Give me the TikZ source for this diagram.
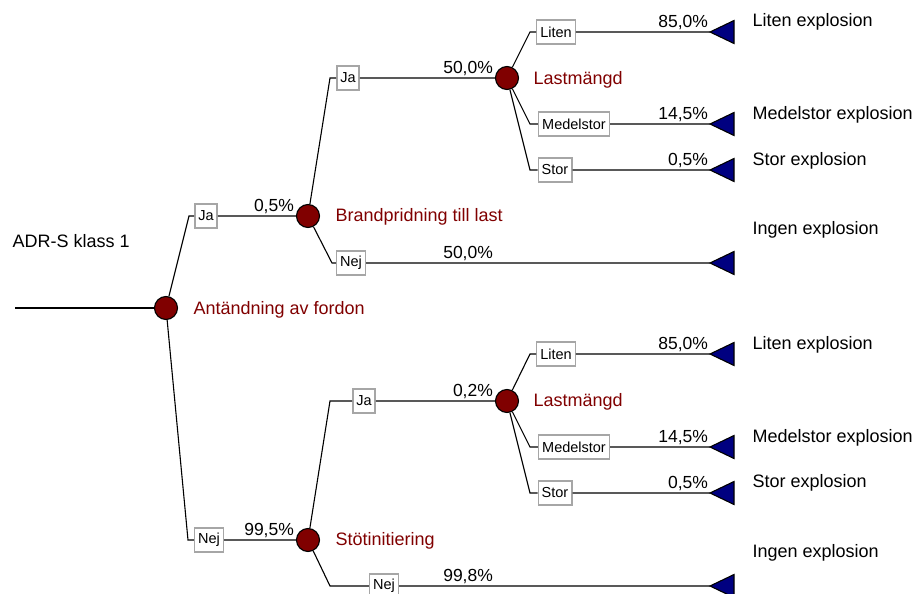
\documentclass[tikz,border=0pt]{standalone}
\usepackage{fontspec}
\setmainfont{Liberation Sans}
\usetikzlibrary{shapes.geometric}
\definecolor{chancered}{RGB}{128,0,0}
\definecolor{termblue}{RGB}{0,0,128}

\begin{document}
\begin{tikzpicture}[
					x=1pt, y=-1pt,
					line width=1.1pt,
					chance/.style={circle,draw,fill=chancered,minimum size=23pt,inner sep=0pt},
					opt/.style={rectangle,draw=gray!70,line width=1.4pt,fill=white,inner xsep=3.5pt,minimum height=24pt,font=\fontsize{14.5}{16}\selectfont},
					term/.style={isosceles triangle,isosceles triangle stretches,shape border rotate=180,draw,fill=termblue,minimum width=23pt,minimum height=24pt,inner sep=0pt,outer sep=0pt,anchor=apex},
					pct/.style={anchor=south east,inner sep=1.5pt,font=\fontsize{17.5}{20}\selectfont},
					lbl/.style={anchor=west,inner sep=0pt,font=\fontsize{18}{20}\selectfont},
					evt/.style={lbl,text=chancered},
					]
					\useasboundingbox (0,0) rectangle (914,594);
					% chance nodes
					\node [chance] (c1) at (166,308) {};
					\node [chance] (c2) at (308,216) {};
					\node [chance] (c3) at (308,540) {};
					\node [chance] (c4) at (507,78) {};
					\node [chance] (c5) at (507,401) {};
					\coordinate (root) at (15,308);
					\node [lbl] (title) at (12,241) {ADR-S klass 1};
					\node [evt] (e1) at (193,310) {Antändning av fordon};
					\node [evt] (e2) at (335,217) {Brandpridning till last};
					\node [evt] (e3) at (335,541) {Stötinitiering};
					\node [evt] (e4) at (533,80) {Lastmängd};
					\node [evt] (e5) at (533,402) {Lastmängd};
					% corners
					\coordinate (k1) at (189,216);
					\coordinate (k2) at (188,540);
					\coordinate (k3) at (330,78);
					\coordinate (k4) at (332,263);
					\coordinate (k5) at (530,32);
					\coordinate (k6) at (530,124);
					\coordinate (k7) at (530,170);
					\coordinate (k8) at (330,401);
					\coordinate (k9) at (330,586);
					\coordinate (k10) at (530,354);
					\coordinate (k11) at (530,447);
					\coordinate (k12) at (530,493);
					% option boxes
					\node [opt] (ja1) at (206,216) {Ja};
					\node [opt] (nej1) at (209,540) {Nej};
					\node [opt] (ja2) at (348,78) {Ja};
					\node [opt] (nej2) at (351,263) {Nej};
					\node [opt] (liten1) at (556,32) {Liten};
					\node [opt] (medel1) at (574,124) {Medelstor};
					\node [opt] (stor1) at (555,170) {Stor};
					\node [opt] (ja3) at (364,401) {Ja};
					\node [opt] (nej3) at (384,586) {Nej};
					\node [opt] (liten2) at (556,354) {Liten};
					\node [opt] (medel2) at (574,447) {Medelstor};
					\node [opt] (stor2) at (555,493) {Stor};
					% end nodes
					\node [term] (t1) at (710,32) {};
					\node [term] (t2) at (710,124) {};
					\node [term] (t3) at (710,170) {};
					\node [term] (t4) at (710,263) {};
					\node [term] (t5) at (710,354) {};
					\node [term] (t6) at (710,447) {};
					\node [term] (t7) at (710,493) {};
					\node [term] (t8) at (710,586) {};
					\node [lbl] (o1) at (752,22) {Liten explosion};
					\node [lbl] (o2) at (752,115) {Medelstor explosion};
					\node [lbl] (o3) at (752,161) {Stor explosion};
					\node [lbl] (o4) at (752,230) {Ingen explosion};
					\node [lbl] (o5) at (752,345) {Liten explosion};
					\node [lbl] (o6) at (752,438) {Medelstor explosion};
					\node [lbl] (o7) at (752,483) {Stor explosion};
					\node [lbl] (o8) at (752,553) {Ingen explosion};
					% probabilities
					\node [pct] (p1) at (c2.west) {0,5\%};
					\node [pct] (p2) at (c3.west) {99,5\%};
					\node [pct] (p3) at (c4.west) {50,0\%};
					\node [pct] (p4) at (c4.west |- t4.apex) {50,0\%};
					\node [pct] (p5) at (t1.apex) {85,0\%};
					\node [pct] (p6) at (t2.apex) {14,5\%};
					\node [pct] (p7) at (t3.apex) {0,5\%};
					\node [pct] (p8) at (c5.west) {0,2\%};
					\node [pct] (p9) at (c5.west |- t8.apex) {99,8\%};
					\node [pct] (p10) at (t5.apex) {85,0\%};
					\node [pct] (p11) at (t6.apex) {14,5\%};
					\node [pct] (p12) at (t7.apex) {0,5\%};
					% branches
					\draw (root) -- (c1);
					\draw (c1) -- (k1) -- (ja1) -- (c2);
					\draw (c1) -- (k2) -- (nej1) -- (c3);
					\draw (c2) -- (k3) -- (ja2) -- (c4);
					\draw (c2) -- (k4) -- (nej2) -- (t4.apex);
					\draw (c4) -- (k5) -- (liten1) -- (t1.apex);
					\draw (c4) -- (k6) -- (medel1) -- (t2.apex);
					\draw (c4) -- (k7) -- (stor1) -- (t3.apex);
					\draw (c3) -- (k8) -- (ja3) -- (c5);
					\draw (c3) -- (k9) -- (nej3) -- (t8.apex);
					\draw (c5) -- (k10) -- (liten2) -- (t5.apex);
					\draw (c5) -- (k11) -- (medel2) -- (t6.apex);
					\draw (c5) -- (k12) -- (stor2) -- (t7.apex);
				\end{tikzpicture}
\end{document}
